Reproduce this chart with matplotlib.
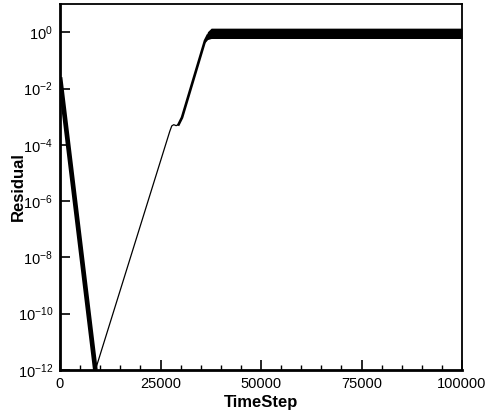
import numpy as np
import matplotlib
matplotlib.use("Agg")
import matplotlib.pyplot as plt
from matplotlib.ticker import MultipleLocator, FixedLocator, NullLocator, LogFormatterSciNotation

plt.rcParams['font.family'] = ['Liberation Sans', 'DejaVu Sans']
plt.rcParams['mathtext.fontset'] = 'custom'
plt.rcParams['mathtext.rm'] = 'Liberation Sans'
plt.rcParams['mathtext.it'] = 'Liberation Sans:italic'
plt.rcParams['mathtext.bf'] = 'Liberation Sans:bold'

# residual history
# initial decay (thick oscillating band)
decay_steps = [0, 8800]
decay_res = [2.5e-2, 1e-12]

# thin growth after the minimum, small hump near 28000
growth_steps = [8800, 27300, 27800, 28300, 28900, 29500]
growth_res = [1e-12, 3.0e-4, 4.7e-4, 5.2e-4, 4.8e-4, 5.3e-4]

# faster growth (thicker band) up to saturation
rise_steps = [29500, 30350, 36070, 36700]
rise_res = [5.3e-4, 9.3e-4, 5.0e-1, 7.5e-1]

# saturated oscillation band
band_steps = [36000, 36700, 37600, 100000]
band_lo = [0.42, 0.55, 0.6, 0.6]
band_hi = [0.55, 1.05, 1.4, 1.4]

fig = plt.figure(figsize=(5.0, 4.12), dpi=100)
ax = fig.add_axes([0.12, 0.102, 0.804, 0.888])

ax.plot(decay_steps, decay_res, color='black', lw=3.4, solid_capstyle='butt')
ax.plot(growth_steps, growth_res, color='black', lw=0.9)
ax.plot(rise_steps, rise_res, color='black', lw=1.9)
ax.fill_between(band_steps, band_lo, band_hi, color='black', lw=0)

ax.set_yscale('log')
ax.set_xlim(0, 100000)
ax.set_ylim(1e-12, 1e1)

ax.xaxis.set_major_locator(MultipleLocator(25000))
ax.xaxis.set_minor_locator(MultipleLocator(5000))
ax.yaxis.set_major_locator(FixedLocator([10.0 ** k for k in range(-12, 1, 2)]))
ax.yaxis.set_minor_locator(NullLocator())
ax.yaxis.set_major_formatter(LogFormatterSciNotation())

ax.tick_params(axis='both', which='both', direction='in', top=False, right=False,
               labelsize=10.5, pad=5)
ax.tick_params(axis='both', which='major', length=7, width=1.2)
ax.tick_params(axis='x', which='minor', length=3.5, width=1.0)

for side in ['top', 'right']:
    ax.spines[side].set_linewidth(1.3)
for side in ['bottom', 'left']:
    ax.spines[side].set_linewidth(2.0)

ax.set_xlabel('TimeStep', fontsize=12, fontweight='bold')
ax.xaxis.set_label_coords(0.5, -0.068)
ax.set_ylabel('Residual', fontsize=12, fontweight='bold')
ax.yaxis.set_label_coords(-0.085, 0.5)

fig.savefig('out.png', dpi=100)
